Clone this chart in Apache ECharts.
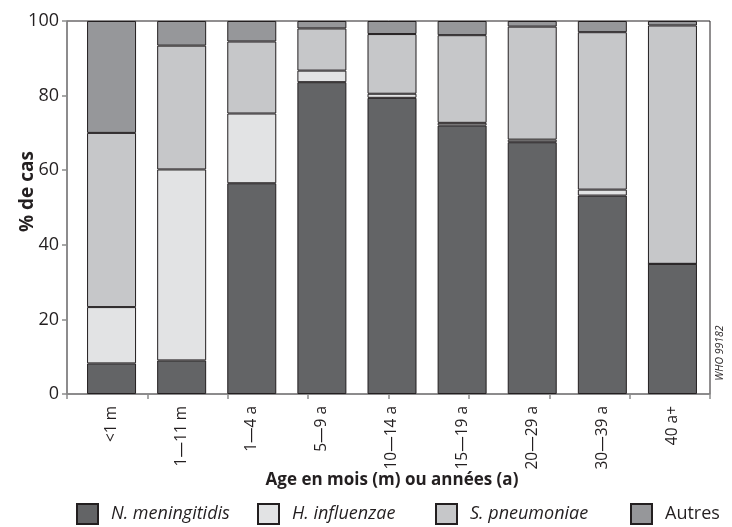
<!DOCTYPE html>
<html lang="fr" style="height: 100%">
<head>
  <meta charset="utf-8">
</head>
<body style="height: 100%; margin: 0; background: #fff">
  <div id="container" style="height: 100%"></div>

  <script type="text/javascript" src="https://fastly.jsdelivr.net/npm/echarts@6/dist/echarts.min.js"></script>
  <script type="text/javascript">
    var dom = document.getElementById('container');
    var myChart = echarts.init(dom, null, { renderer: 'canvas' });

// tranches d'âge
var ageGroups = ['<1 m', '1—11 m', '1—4 a', '5—9 a', '10—14 a', '15—19 a', '20—29 a', '30—39 a', '40 a+'];
// % de cas par agent
var nMeningitidis = [8.2, 9.0, 56.5, 83.6, 79.4, 72.0, 67.5, 53.2, 34.9];
var hInfluenzae   = [15.1, 51.2, 18.7, 3.1, 1.1, 0.7, 0.7, 1.6, 0];
var sPneumoniae   = [46.7, 33.2, 19.3, 11.3, 16.0, 23.5, 30.3, 42.2, 63.9];
var autres        = [30.0, 6.6, 5.5, 2.0, 3.5, 3.8, 1.5, 3.0, 1.2];
var seriesNames = ['N. meningitidis', 'H. influenzae', 'S. pneumoniae', 'Autres'];
var yTicks = [0, 20, 40, 60, 80, 100];

var font = "'Open Sans', 'Noto Sans', sans-serif";
var ink = '#231f20';
var axisGrey = '#8c8c8c';

function bar(name, data, color) {
  return {
    name: name,
    type: 'bar',
    stack: 'total',
    xAxisIndex: 0,
    yAxisIndex: 0,
    barWidth: 49,
    data: data,
    itemStyle: { color: color, borderColor: ink, borderWidth: 1 }
  };
}

// one legend per entry so each sits where it does in the figure
var legendLefts = [76, 257, 435, 630];
var legends = seriesNames.map(function (name, i) {
  return {
    left: legendLefts[i],
    top: 503,
    padding: 0,
    icon: 'rect',
    itemWidth: 21,
    itemHeight: 20,
    itemGap: 0,
    textStyle: {
      fontFamily: font, fontSize: 18, color: ink,
      fontStyle: i < 3 ? 'italic' : 'normal',
      padding: [0, 0, 0, 8]
    },
    data: [name]
  };
});

var option = {
  animation: false,
  textStyle: { fontFamily: font, color: ink },
  grid: [
    // bars: the original's bar slots sit slightly inside the frame
    { left: 76.5, right: 24.5, top: 21, bottom: 133, outerBoundsMode: 'none' },
    // frame, value axis and the x tick marks
    {
      left: 67, right: 22, top: 21, bottom: 133, outerBoundsMode: 'none',
      show: true, borderColor: ink, borderWidth: 1
    }
  ],
  legend: legends,
  xAxis: [
    {
      type: 'category',
      gridIndex: 0,
      data: ageGroups,
      axisLine: { show: false },
      axisTick: { show: false },
      axisLabel: {
        interval: 0, rotate: 90, margin: 12,
        fontFamily: font, fontSize: 15.5, color: ink
      },
      name: 'Age en mois (m) ou années (a)',
      nameLocation: 'middle',
      nameGap: 78,
      nameMoveOverlap: false,
      nameTextStyle: { fontFamily: font, fontSize: 17, fontWeight: 'bold', color: ink }
    },
    {
      type: 'value',
      gridIndex: 1,
      position: 'bottom',
      min: 0, max: 8, interval: 1,
      axisLine: { show: true, lineStyle: { color: axisGrey, width: 1.5 } },
      axisTick: { show: true, length: 5, lineStyle: { color: axisGrey, width: 1.5 } },
      axisLabel: { show: false },
      splitLine: { show: false }
    }
  ],
  yAxis: [
    {
      type: 'value',
      gridIndex: 0,
      min: yTicks[0], max: yTicks[yTicks.length - 1],
      show: false
    },
    {
      type: 'value',
      gridIndex: 1,
      min: yTicks[0], max: yTicks[yTicks.length - 1], interval: 20,
      axisLine: { show: true, lineStyle: { color: axisGrey, width: 1.5 } },
      axisTick: { show: true, length: 5, lineStyle: { color: axisGrey, width: 1.5 } },
      axisLabel: { fontFamily: font, fontSize: 18, color: ink, margin: 8 },
      splitLine: { show: false },
      name: '% de cas',
      nameLocation: 'middle',
      nameGap: 30,
      nameMoveOverlap: false,
      nameTextStyle: {
        fontFamily: font, fontSize: 19, fontWeight: 'bold', color: ink,
        padding: [0, 0, 0, 32]
      }
    }
  ],
  graphic: [
    {
      type: 'text',
      x: 720, y: 353,
      rotation: Math.PI / 2,
      style: {
        text: 'WHO 99182',
        font: 'italic 10.5px ' + font,
        fill: ink,
        align: 'center',
        verticalAlign: 'middle'
      }
    }
  ],
  series: [
    bar(seriesNames[0], nMeningitidis, '#636466'),
    bar(seriesNames[1], hInfluenzae, '#e2e3e4'),
    bar(seriesNames[2], sPneumoniae, '#c6c7c9'),
    bar(seriesNames[3], autres, '#96979a')
  ]
};

myChart.setOption(option);
window.addEventListener('resize', myChart.resize);
  </script>
</body>
</html>
